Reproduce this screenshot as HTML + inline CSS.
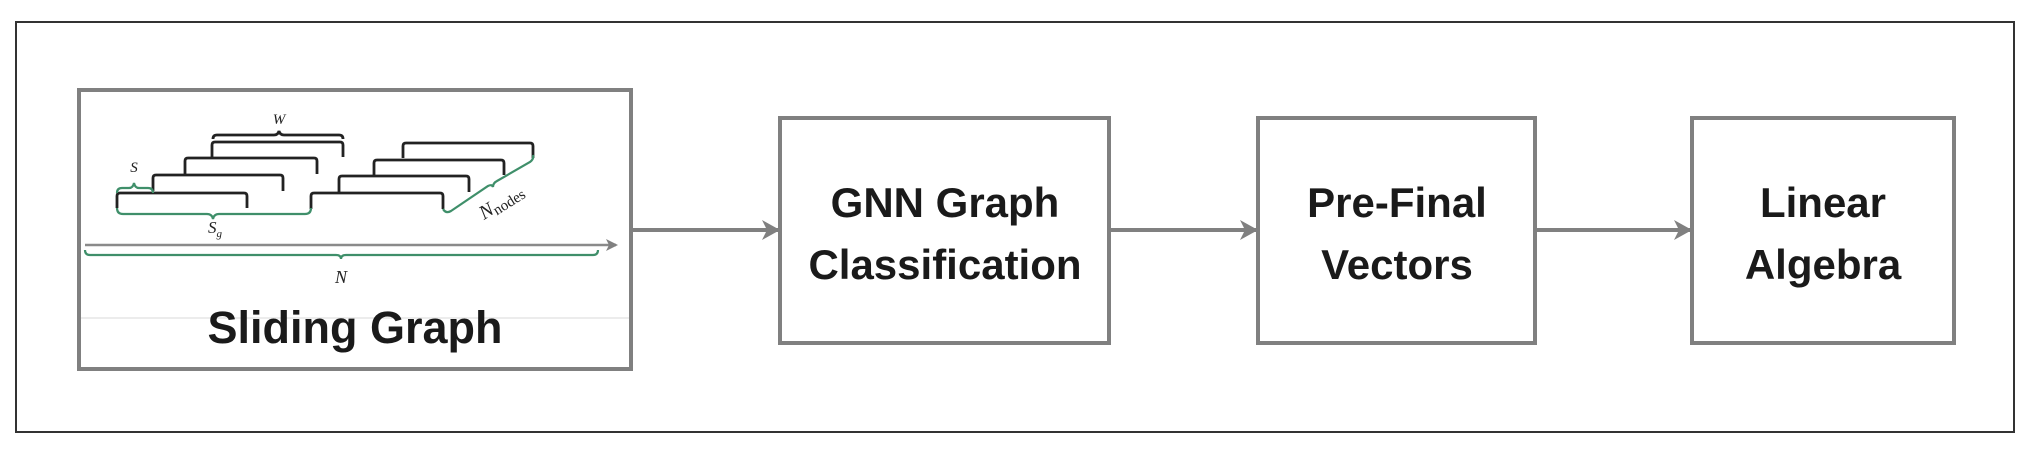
<!DOCTYPE html>
<html><head><meta charset="utf-8"><style>
html,body{margin:0;padding:0;background:#fff;}
svg{display:block;}
.t{font-family:"Liberation Sans",sans-serif;font-weight:bold;fill:#1a1a1a;}
.m{font-family:"Liberation Serif",serif;font-style:italic;fill:#222;}
</style></head><body>
<svg width="2042" height="455" viewBox="0 0 2042 455" xmlns="http://www.w3.org/2000/svg">
<defs>
<marker id="ah" markerWidth="12" markerHeight="12" refX="10" refY="6" orient="auto" markerUnits="userSpaceOnUse">
<path d="M0,0 L12,6 L0,12 L3,6 Z" fill="#808080"/>
</marker>
<marker id="ah2" markerWidth="20" markerHeight="20" refX="17" refY="10" orient="auto" markerUnits="userSpaceOnUse">
<path d="M0,0 L18,10 L0,20 L5,10 Z" fill="#808080"/>
</marker>
</defs>
<rect x="16" y="22" width="1998" height="410" fill="none" stroke="#333" stroke-width="2"/>

<rect x="79" y="90" width="552" height="279" fill="none" stroke="#808080" stroke-width="4"/>
<line x1="81" y1="318" x2="629" y2="318" stroke="#e6e6e6" stroke-width="1.5"/>
<text class="t" x="355" y="343" font-size="45" text-anchor="middle">Sliding Graph</text>

<line x1="85" y1="245" x2="616" y2="245" stroke="#8a8a8a" stroke-width="2.5" marker-end="url(#ah)"/>
<path d="M85,250 q0,5 5,5 L336,255 q5,0 5,4 q0,-4 5,-4 L593,255 q5,0 5,-5" fill="none" stroke="#3f8f6a" stroke-width="2.2"/>
<text class="m" x="341" y="283" font-size="18" text-anchor="middle">N</text>

<g fill="none" stroke="#222" stroke-width="2.8">
<path d="M117,208 V196 q0,-3 3,-3 H244 q3,0 3,3 V208"/>
<path d="M153,191 V178 q0,-3 3,-3 H280 q3,0 3,3 V191"/>
<path d="M185,174 V161 q0,-3 3,-3 H314 q3,0 3,3 V174"/>
<path d="M212,157 V145 q0,-3 3,-3 H340 q3,0 3,3 V157"/>
<path d="M213,139 q0,-4 4,-4 H274 q4,0 5,-4 q1,4 5,4 H339 q4,0 4,4"/>
<path d="M311,209 V196 q0,-3 3,-3 H440 q3,0 3,3 V209"/>
<path d="M339,192 V179 q0,-3 3,-3 H466 q3,0 3,3 V192"/>
<path d="M374,175 V163 q0,-3 3,-3 H501 q3,0 3,3 V175"/>
<path d="M403,158 V146 q0,-3 3,-3 H530 q3,0 3,3 V158"/>
</g>
<g fill="none" stroke="#3f8f6a" stroke-width="2.2">
<path d="M117,193 q0,-5 5,-5 H129 q4,0 5,-5 q1,5 5,5 H148 q5,0 5,5"/>
<path d="M117,208 q0,6 6,6 H207 q5,0 6,5 q1,-5 6,-5 H305 q6,0 6,-6"/>
<path d="M443,209 q3,5 8,2 L488,186 q4,-2 5,1 q0,-4 4,-6 L530,162 q4,-3 3,-7"/>
</g>
<text class="m" x="279" y="124" font-size="15" text-anchor="middle">W</text>
<text class="m" x="134" y="172" font-size="15" text-anchor="middle">S</text>
<text class="m" x="208" y="233" font-size="17">S<tspan font-size="11" dy="4">g</tspan></text>
<text class="m" font-size="20" transform="translate(484,220) rotate(-32)">N<tspan font-style="normal" font-size="15" dy="3">nodes</tspan></text>

<line x1="633" y1="230" x2="779" y2="230" stroke="#808080" stroke-width="4" marker-end="url(#ah2)"/>
<line x1="1111" y1="230" x2="1257" y2="230" stroke="#808080" stroke-width="4" marker-end="url(#ah2)"/>
<line x1="1537" y1="230" x2="1691" y2="230" stroke="#808080" stroke-width="4" marker-end="url(#ah2)"/>

<rect x="780" y="118" width="329" height="225" fill="#fff" stroke="#808080" stroke-width="4"/>
<rect x="1258" y="118" width="277" height="225" fill="#fff" stroke="#808080" stroke-width="4"/>
<rect x="1692" y="118" width="262" height="225" fill="#fff" stroke="#808080" stroke-width="4"/>

<text class="t" font-size="42" text-anchor="middle"><tspan x="945" y="217">GNN Graph</tspan><tspan x="945" y="279">Classification</tspan></text>
<text class="t" font-size="42" text-anchor="middle"><tspan x="1397" y="217">Pre-Final</tspan><tspan x="1397" y="279">Vectors</tspan></text>
<text class="t" font-size="42" text-anchor="middle"><tspan x="1823" y="217">Linear</tspan><tspan x="1823" y="279">Algebra</tspan></text>
</svg>
</body></html>
